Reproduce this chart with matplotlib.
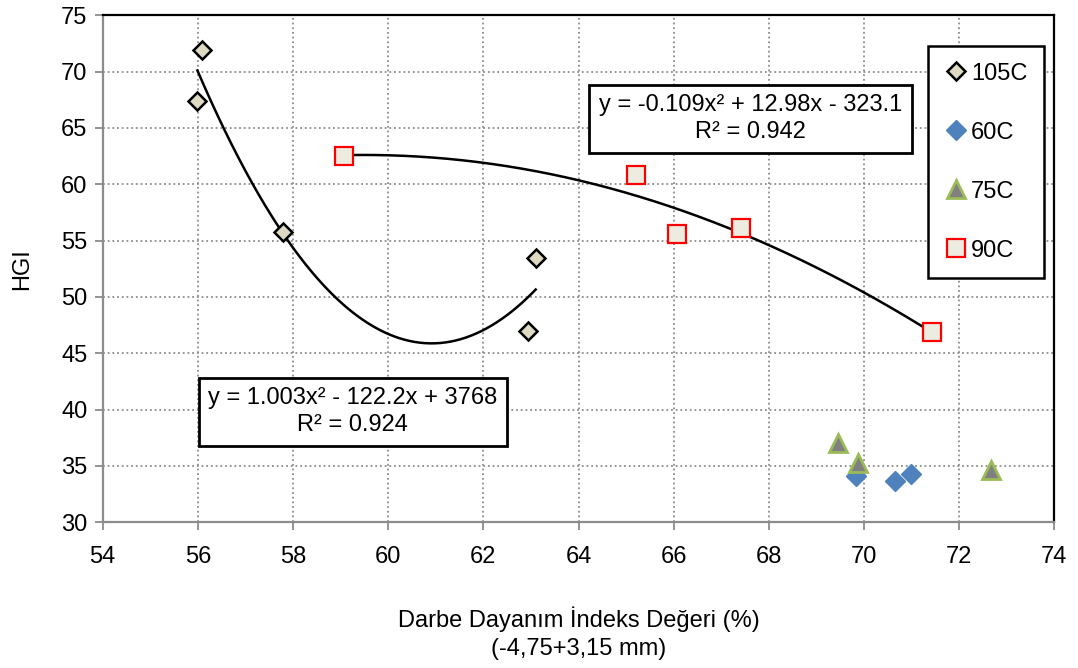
import numpy as np
import matplotlib
matplotlib.use("Agg")
import matplotlib.pyplot as plt

plt.rcParams['font.family'] = ['Liberation Sans', 'DejaVu Sans']

# Darbe dayanım indeksi (%) vs HGI, four drying temperatures
x_105 = [56.08, 55.99, 57.79, 63.10, 62.94]
y_105 = [71.9, 67.4, 55.8, 53.5, 47.0]

x_60 = [69.83, 70.65, 70.98]
y_60 = [34.1, 33.7, 34.3]

x_75 = [69.45, 69.87, 72.67]
y_75 = [37.0, 35.3, 34.6]

x_90 = [59.07, 65.21, 66.07, 67.41, 71.44]
y_90 = [62.5, 60.8, 55.6, 56.1, 46.9]

eq_105 = "y = 1.003x² - 122.2x + 3768\nR² = 0.924"
eq_90 = "y = -0.109x² + 12.98x - 323.1\nR² = 0.942"

fig = plt.figure(figsize=(10.78, 6.68), dpi=100)
ax = fig.add_axes([0.0953, 0.2181, 0.8827, 0.759])

grid_c = '#8c8c8c'
ax.set_xlim(54, 74)
ax.set_ylim(30, 75)
ax.set_xticks(np.arange(54, 75, 2))
ax.set_yticks(np.arange(30, 76, 5))
ax.grid(True, color=grid_c, linestyle=(0, (1, 1.6)), linewidth=1.3)
ax.set_axisbelow(True)

for s in ['left', 'bottom']:
    ax.spines[s].set_color('#8c8c8c')
    ax.spines[s].set_linewidth(1.6)
for s in ['top', 'right']:
    ax.spines[s].set_color('black')
    ax.spines[s].set_linewidth(1.6)
ax.tick_params(axis='both', direction='out', length=6, width=1.3,
               color='#8c8c8c', labelsize=17, pad=5)
ax.tick_params(axis='x', pad=11)

# polynomial trendlines (2nd order)
for xs, ys in [(x_105, y_105), (x_90, y_90)]:
    c = np.polyfit(xs, ys, 2)
    xx = np.linspace(min(xs), max(xs), 200)
    ax.plot(xx, np.polyval(c, xx), color='black', lw=1.8, zorder=2)

ax.plot(x_105, y_105, 'D', ms=9.5, mfc='#ddd9c3', mec='black', mew=1.8,
        ls='none', label='105C', zorder=3)
ax.plot(x_60, y_60, 'D', ms=10, mfc='#4f81bd', mec='#4f81bd', mew=1,
        ls='none', label='60C', zorder=3)
ax.plot(x_75, y_75, '^', ms=13, mfc='#808080', mec='#9bbb59', mew=2,
        ls='none', label='75C', zorder=4)
ax.plot(x_90, y_90, 's', ms=13, mfc='#eeece1', mec='#ff0000', mew=1.6,
        ls='none', label='90C', zorder=3)

leg = ax.legend(loc='upper right', bbox_to_anchor=(0.989, 0.9394),
                fontsize=17, frameon=True, fancybox=False, labelspacing=1.57,
                handlelength=0.9, handletextpad=0.2, borderpad=0.7,
                borderaxespad=0)
leg.get_frame().set_edgecolor('black')
leg.get_frame().set_linewidth(1.8)
leg.get_frame().set_facecolor('white')
leg.get_frame().set_alpha(1)

box = dict(boxstyle='square,pad=0.4', fc='white', ec='black', lw=2)
ax.text(0.6807, 0.7957, eq_90, transform=ax.transAxes, ha='center',
        va='center', fontsize=17, bbox=box, linespacing=1.3, zorder=5)
ax.text(0.2629, 0.2185, eq_105, transform=ax.transAxes, ha='center',
        va='center', fontsize=17, bbox=box, linespacing=1.3, zorder=5)

ax.set_ylabel('HGI', fontsize=17, labelpad=20)
ax.set_xlabel('Darbe Dayanım İndeks Değeri (%)\n(-4,75+3,15 mm)',
              fontsize=17, labelpad=28, linespacing=1.35)

fig.savefig('out.png', dpi=100)
